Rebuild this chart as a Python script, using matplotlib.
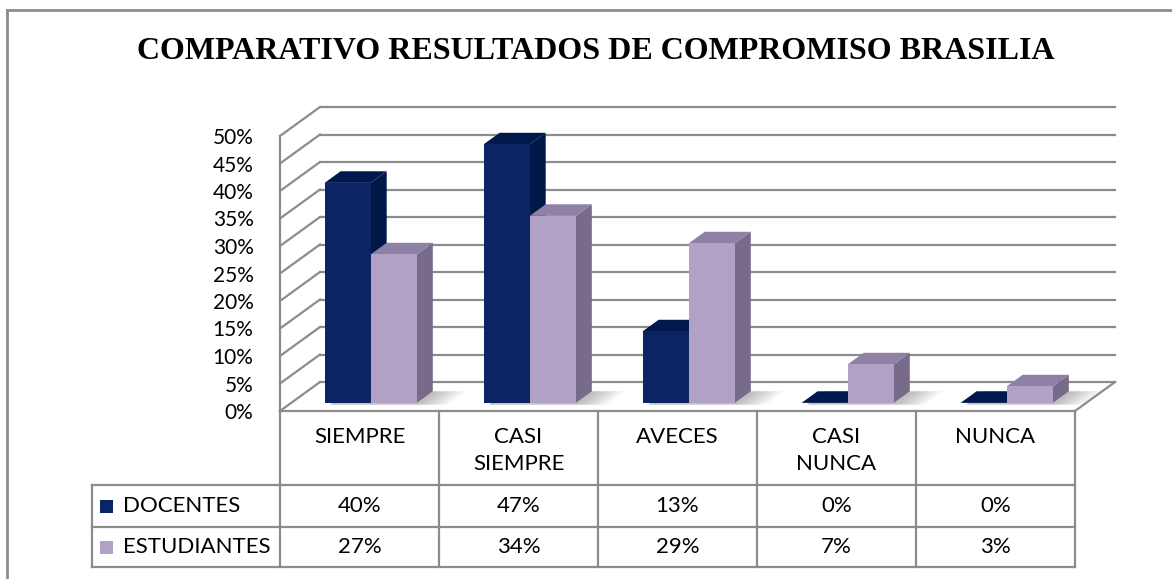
import numpy as np
import matplotlib.pyplot as plt
from matplotlib.patches import Polygon, Rectangle
from matplotlib.ticker import FuncFormatter

categorias = ["SIEMPRE", "CASI\nSIEMPRE", "AVECES", "CASI\nNUNCA", "NUNCA"]
series = ["DOCENTES", "ESTUDIANTES"]
docentes = [40, 47, 13, 0, 0]
estudiantes = [27, 34, 29, 7, 3]
valores = [docentes, estudiantes]
titulo = "COMPARATIVO RESULTADOS DE COMPROMISO BRASILIA"

# colores: frente, lado, arriba
col_front = ["#0b2463", "#b2a1c7"]
col_side = ["#001848", "#776a8b"]
col_top = ["#00184c", "#8f80a5"]
gris = "#8c8c8c"

W, H = 1172, 579
fig = plt.figure(figsize=(W / 100, H / 100), dpi=100)
fig.patch.set_facecolor("white")

# capa en pixeles para marco, titulo y tabla
tab = fig.add_axes([0, 0, 1, 1])
tab.set_xlim(0, W)
tab.set_ylim(H, 0)
tab.axis("off")

# area del grafico: frente del piso de x=280 a 1075, 0% en y=411, 50% en y=136
x_left, x_right, y_base, y_top = 280, 1075, 411, 136
ax = fig.add_axes([x_left / W, (H - y_base) / H, (x_right - x_left) / W, (y_base - y_top) / H])
ax.set_xlim(0, len(categorias))
ax.set_ylim(0, 50)
ax.patch.set_visible(False)
for s in ax.spines.values():
    s.set_visible(False)
ax.set_xticks([])
ax.set_yticks(range(0, 55, 5))
ax.yaxis.set_major_formatter(FuncFormatter(lambda v, p: f"{int(v)}%"))
ax.tick_params(axis="y", length=0, pad=19, labelsize=15)
for t in ax.get_yticklabels():
    t.set_fontfamily("Lato")

# profundidad del piso en unidades de datos
DX = 40 / ((x_right - x_left) / len(categorias))
DY = 29 / ((y_base - y_top) / 50)
lw = 1.6

# paredes y lineas de cuadricula
for v in range(0, 55, 5):
    ax.plot([DX, len(categorias) + DX], [v + DY, v + DY], color=gris, lw=lw, clip_on=False, zorder=1)
    ax.plot([0, DX], [v, v + DY], color=gris, lw=lw, clip_on=False, zorder=1)
ax.plot([0, 0], [0, 50], color=gris, lw=lw, clip_on=False, zorder=1)
ax.plot([len(categorias), len(categorias) + DX], [0, DY], color=gris, lw=lw, clip_on=False, zorder=1)

bw = 0.29
d0, d1 = 0.28, 0.68


def px(x, d):
    return x + d * DX


def py(v, d):
    return v + d * DY


z = 3
for i in range(len(categorias)):
    # sombra suave sobre el piso
    xs = i + 0.5 - bw
    xe = i + 0.5 + bw
    for k in range(8):
        ext = 0.03 + k * 0.025
        sh = Polygon([(px(xs + 0.05, d0 - 0.06), py(0, d0 - 0.06)),
                      (px(xe + ext, d0 - 0.06), py(0, d0 - 0.06)),
                      (px(xe + ext, d1), py(0, d1)),
                      (px(xs + 0.05, d1), py(0, d1))],
                     closed=True, facecolor="#606060", edgecolor="none", alpha=0.06, clip_on=False, zorder=2)
        ax.add_patch(sh)
    for s in range(2):
        v = valores[s][i]
        x0 = i + 0.5 - bw + s * bw
        x1 = x0 + bw
        side = Polygon([(px(x1, d0), py(0, d0)), (px(x1, d1), py(0, d1)),
                        (px(x1, d1), py(v, d1)), (px(x1, d0), py(v, d0))],
                       closed=True, facecolor=col_side[s], edgecolor="none", clip_on=False, zorder=z)
        top = Polygon([(px(x0, d0), py(v, d0)), (px(x1, d0), py(v, d0)),
                       (px(x1, d1), py(v, d1)), (px(x0, d1), py(v, d1))],
                      closed=True, facecolor=col_top[s], edgecolor="none", clip_on=False, zorder=z)
        front = Rectangle((px(x0, d0), py(0, d0)), bw, v, facecolor=col_front[s],
                          edgecolor="none", clip_on=False, zorder=z)
        ax.add_patch(side)
        ax.add_patch(top)
        ax.add_patch(front)
        z += 1

# marco exterior (recortado)
tab.plot([7, W], [10, 10], color=gris, lw=2)
tab.plot([7, 7], [10, H], color=gris, lw=2)

tab.text(596, 59, titulo, ha="center", va="baseline", fontsize=23,
         fontfamily="Liberation Serif", fontweight="bold")

# tabla de datos
cw = (x_right - x_left) / len(categorias)
cols = [x_left + k * cw for k in range(len(categorias) + 1)]
y_head, y_r1, y_r2, y_end = 411, 485, 527, 567
leg_x = 92
tkw = dict(color=gris, lw=lw)
tab.plot([x_left, x_right], [y_head, y_head], **tkw)
for yy in (y_r1, y_r2, y_end):
    tab.plot([leg_x, x_right], [yy, yy], **tkw)
for xx in cols:
    tab.plot([xx, xx], [y_head, y_end], **tkw)
tab.plot([leg_x, leg_x], [y_r1, y_end], **tkw)

fs = 16
for k, cat in enumerate(categorias):
    cx = (cols[k] + cols[k + 1]) / 2
    tab.text(cx, 427, cat, ha="center", va="top", fontsize=fs, fontfamily="Lato", linespacing=1.45)
rows_y = [(y_r1 + y_r2) / 2, (y_r2 + y_end) / 2]
for s in range(2):
    yc = rows_y[s]
    tab.add_patch(Rectangle((100, yc - 6.5), 13, 13, facecolor=col_front[s], edgecolor="none"))
    tab.text(123, yc, series[s], ha="left", va="center", fontsize=fs, fontfamily="Lato")
    for k in range(len(categorias)):
        cx = (cols[k] + cols[k + 1]) / 2
        tab.text(cx, yc, f"{valores[s][k]}%", ha="center", va="center", fontsize=fs, fontfamily="Lato")

fig.savefig("out.png", dpi=100, facecolor="white")
